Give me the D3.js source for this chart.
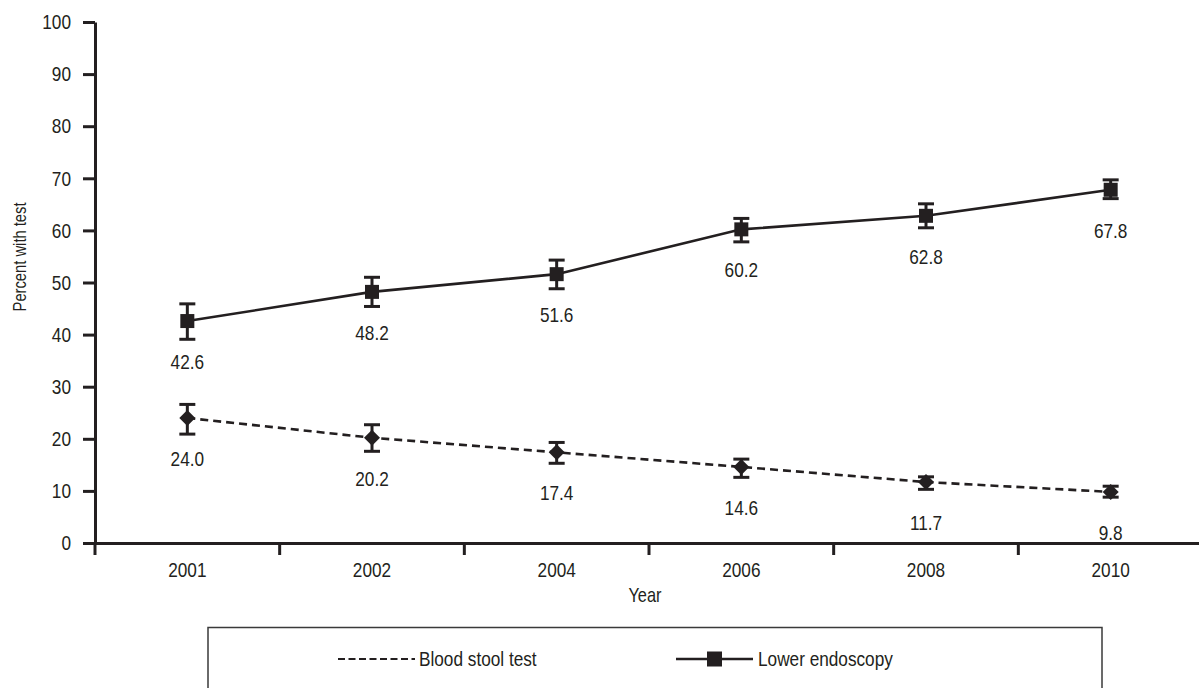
<!DOCTYPE html>
<html>
<head>
<meta charset="utf-8">
<script src="https://cdn.jsdelivr.net/npm/d3@7"></script>
<style>
  html, body { margin: 0; padding: 0; background: #fff; }
  svg { display: block; }
  text { font-family: "Liberation Sans", Arial, sans-serif; fill: #231f20;
         transform-box: fill-box; transform: scaleX(0.82); transform-origin: center; }
  text.anchor-end { transform-origin: right center; }
  text.anchor-start { transform-origin: left center; }
</style>
</head>
<body>
<svg id="chart" width="1199" height="688"></svg>
<script>
// ---- data ----
const years = ["2001", "2002", "2004", "2006", "2008", "2010"];
const bloodStool = [24.0, 20.2, 17.4, 14.6, 11.7, 9.8];
const bloodLow   = [20.9, 17.6, 15.3, 12.6, 10.3, 8.8];
const bloodHigh  = [26.6, 22.7, 19.3, 16.1, 12.7, 10.9];
const endoscopy  = [42.6, 48.2, 51.6, 60.2, 62.8, 67.8];
const endoLow    = [39.1, 45.4, 48.8, 57.8, 60.5, 66.1];
const endoHigh   = [45.9, 51.0, 54.3, 62.3, 65.1, 69.7];
const yTicks = [0, 10, 20, 30, 40, 50, 60, 70, 80, 90, 100];
const seriesNames = ["Blood stool test", "Lower endoscopy"];

const ink = "#231f20";
const svg = d3.select("#chart");

const x = d3.scaleBand().domain(years).range([95, 1203]);
const y = d3.scaleLinear().domain([0, 100]).range([543, 22]);
const cx = d => x(d) + x.bandwidth() / 2;

// ---- y axis ----
const yAxis = svg.append("g")
  .attr("transform", "translate(95,0)")
  .call(d3.axisLeft(y).tickValues(yTicks).tickSize(12).tickSizeOuter(0).tickPadding(12));
yAxis.attr("font-family", null).attr("font-size", null);
yAxis.select(".domain").attr("stroke", ink).attr("stroke-width", 3);
yAxis.selectAll(".tick line").attr("stroke", ink).attr("stroke-width", 3);
yAxis.selectAll(".tick text").attr("class", "anchor-end").style("font-size", "21px").attr("fill", ink);

// ---- x axis ----
const xAxis = svg.append("g")
  .attr("transform", "translate(0,543)")
  .call(d3.axisBottom(x).tickSize(0).tickSizeOuter(0).tickPadding(19));
xAxis.attr("font-family", null).attr("font-size", null);
xAxis.select(".domain").attr("stroke", ink).attr("stroke-width", 3);
xAxis.selectAll(".tick text").style("font-size", "21px").attr("fill", ink);
// boundary ticks
svg.append("g").selectAll("line").data(years).join("line")
  .attr("x1", d => x(d)).attr("x2", d => x(d))
  .attr("y1", 543).attr("y2", 555)
  .attr("stroke", ink).attr("stroke-width", 3);

// axis titles
svg.append("g").attr("transform", "translate(26,257) rotate(-90)")
  .append("text")
  .attr("text-anchor", "middle")
  .style("font-size", "18px")
  .text("Percent with test");
svg.append("text")
  .attr("x", 645).attr("y", 602)
  .attr("text-anchor", "middle")
  .style("font-size", "20px")
  .text("Year");

// ---- series ----
function drawSeries(vals, lows, highs, dashed, marker) {
  const g = svg.append("g");
  const line = d3.line().x((d, i) => cx(years[i])).y(d => y(d));
  g.append("path").datum(vals)
    .attr("d", line)
    .attr("fill", "none")
    .attr("stroke", ink)
    .attr("stroke-width", 2.6)
    .attr("stroke-dasharray", dashed ? "8,5" : null);
  // error bars
  years.forEach((yr, i) => {
    const xx = cx(yr);
    g.append("line").attr("x1", xx).attr("x2", xx)
      .attr("y1", y(lows[i])).attr("y2", y(highs[i]))
      .attr("stroke", ink).attr("stroke-width", 3);
    [lows[i], highs[i]].forEach(v => {
      g.append("line").attr("x1", xx - 8).attr("x2", xx + 8)
        .attr("y1", y(v)).attr("y2", y(v))
        .attr("stroke", ink).attr("stroke-width", 3);
    });
  });
  // markers
  if (marker === "square") {
    g.selectAll("rect.m").data(vals).join("rect")
      .attr("x", (d, i) => cx(years[i]) - 7)
      .attr("y", d => y(d) - 7)
      .attr("width", 14).attr("height", 14)
      .attr("fill", ink);
  } else {
    g.selectAll("path.m").data(vals).join("path")
      .attr("d", (d, i) => {
        const px = cx(years[i]), py = y(d);
        return `M${px},${py - 8}L${px + 8},${py}L${px},${py + 8}L${px - 8},${py}Z`;
      })
      .attr("fill", ink);
  }
  // value labels
  g.selectAll("text.v").data(vals).join("text")
    .attr("x", (d, i) => cx(years[i]))
    .attr("y", d => y(d) + 48)
    .attr("text-anchor", "middle")
    .style("font-size", "21px")
    .text(d => d.toFixed(1));
}
drawSeries(bloodStool, bloodLow, bloodHigh, true, "diamond");
drawSeries(endoscopy, endoLow, endoHigh, false, "square");

// ---- legend ----
const lg = svg.append("g");
lg.append("rect")
  .attr("x", 208).attr("y", 627.5)
  .attr("width", 894).attr("height", 70)
  .attr("fill", "none").attr("stroke", "#3a3a3a").attr("stroke-width", 1.5);
lg.append("line")
  .attr("x1", 338).attr("x2", 415).attr("y1", 659).attr("y2", 659)
  .attr("stroke", ink).attr("stroke-width", 2).attr("stroke-dasharray", "7,3.5");
lg.append("text")
  .attr("class", "anchor-start")
  .attr("x", 419).attr("y", 666.5)
  .style("font-size", "21px")
  .text(seriesNames[0]);
lg.append("line")
  .attr("x1", 676).attr("x2", 753).attr("y1", 659).attr("y2", 659)
  .attr("stroke", ink).attr("stroke-width", 2.4);
lg.append("rect")
  .attr("x", 707).attr("y", 651.5).attr("width", 15).attr("height", 15)
  .attr("fill", ink);
lg.append("text")
  .attr("class", "anchor-start")
  .attr("x", 758).attr("y", 666.5)
  .style("font-size", "21px")
  .text(seriesNames[1]);
</script>
</body>
</html>
